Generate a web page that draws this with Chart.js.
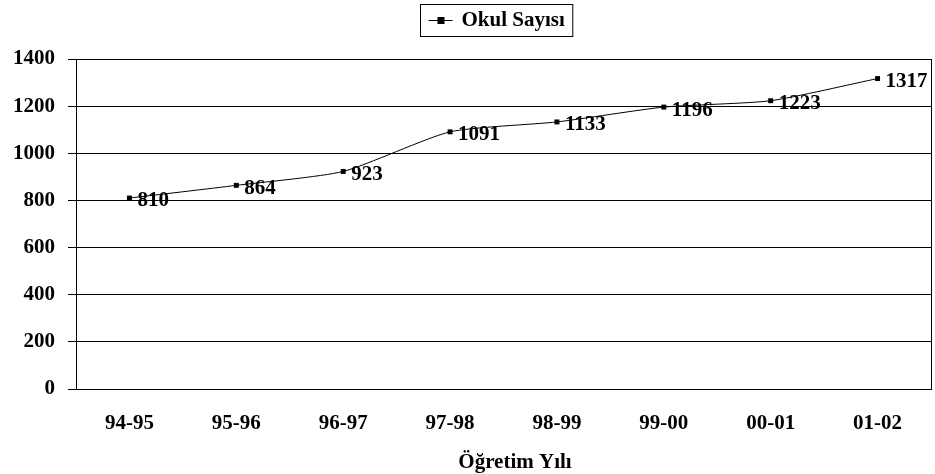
<!DOCTYPE html>
<html>
<head>
<meta charset="utf-8">
<script src="https://cdn.jsdelivr.net/npm/chart.js@4.4.0/dist/chart.umd.min.js"></script>
<style>
  html, body { margin: 0; padding: 0; background: #fff; }
  #wrap { width: 935px; height: 474px; }
</style>
</head>
<body>
<div id="wrap"><canvas id="chart-okul"></canvas></div>
<script>
// Okul sayisi, ogretim yillarina gore
const years = ['94-95', '95-96', '96-97', '97-98', '98-99', '99-00', '00-01', '01-02'];
const okulSayisi = [810, 864, 923, 1091, 1133, 1196, 1223, 1317];
const yTicks = [0, 200, 400, 600, 800, 1000, 1200, 1400];
const seriesLabel = 'Okul Sayısı';
const xTitle = 'Öğretim Yılı';

const serif = '"Liberation Serif", "Times New Roman", serif';

// degerleri noktalarin sagina yaz, cerceve, eksen basligi ve legend kutusunu ciz
const extras = {
  id: 'extras',
  afterDatasetsDraw(chart) {
    const ctx = chart.ctx;
    const meta = chart.getDatasetMeta(0);
    const area = chart.chartArea;
    ctx.save();
    // sag kenar cizgisi
    ctx.strokeStyle = '#000';
    ctx.lineWidth = 1;
    ctx.beginPath();
    ctx.moveTo(Math.round(area.right) + 0.5, area.top);
    ctx.lineTo(Math.round(area.right) + 0.5, area.bottom);
    ctx.stroke();

    ctx.font = 'bold 21px ' + serif;
    ctx.fillStyle = '#000';
    ctx.textAlign = 'left';
    ctx.textBaseline = 'middle';
    meta.data.forEach((pt, i) => {
      ctx.fillText(String(okulSayisi[i]), pt.x + 8, pt.y + 3);
    });

    // x ekseni basligi
    ctx.textAlign = 'center';
    ctx.fillText(xTitle, 515, 463);

    // legend
    ctx.textAlign = 'left';
    const tw = ctx.measureText(seriesLabel).width;
    const bx = 420.5, by = 4.5, cy = 20;
    const boxW = 41 + tw + 8;
    ctx.strokeRect(bx, by, boxW, 32);
    const lx = bx + 8;
    ctx.beginPath();
    ctx.moveTo(lx, cy + 0.5);
    ctx.lineTo(lx + 24, cy + 0.5);
    ctx.stroke();
    ctx.fillRect(lx + 9, cy - 3, 7, 7);
    ctx.fillText(seriesLabel, bx + 41, cy + 1);
    ctx.restore();
  }
};

const okulChart = new Chart(document.getElementById('chart-okul'), {
  type: 'line',
  data: {
    labels: years,
    datasets: [{
      label: seriesLabel,
      data: okulSayisi,
      borderColor: '#000',
      backgroundColor: '#000',
      borderWidth: 1,
      tension: 0.2,
      pointStyle: 'rect',
      pointRadius: 3.5,
      pointBorderWidth: 0,
      pointBackgroundColor: '#000'
    }]
  },
  options: {
    responsive: true,
    maintainAspectRatio: false,
    animation: false,
    layout: { padding: { top: 59, right: 4, bottom: 0, left: 0 } },
    plugins: {
      legend: { display: false },
      tooltip: { enabled: false }
    },
    scales: {
      x: {
        offset: true,
        grid: { display: false, drawTicks: false },
        border: { display: true, color: '#000', width: 1 },
        ticks: {
          color: '#000',
          padding: 22,
          maxRotation: 0,
          font: { family: serif, size: 21, weight: 'bold' }
        },
        title: { display: false, text: xTitle },
        afterFit(scale) { scale.height = 85; }
      },
      y: {
        min: 0,
        max: 1400,
        afterBuildTicks(scale) { scale.ticks = yTicks.map(v => ({ value: v })); },
        grid: { color: '#000', lineWidth: 1, tickLength: 8, drawTicks: true },
        border: { display: true, color: '#000', width: 1 },
        ticks: {
          color: '#000',
          padding: 13,
          font: { family: serif, size: 21, weight: 'bold' },
          callback: v => String(v)
        },
        afterFit(scale) { scale.width = 76; }
      }
    }
  },
  plugins: [extras]
});
</script>
</body>
</html>
